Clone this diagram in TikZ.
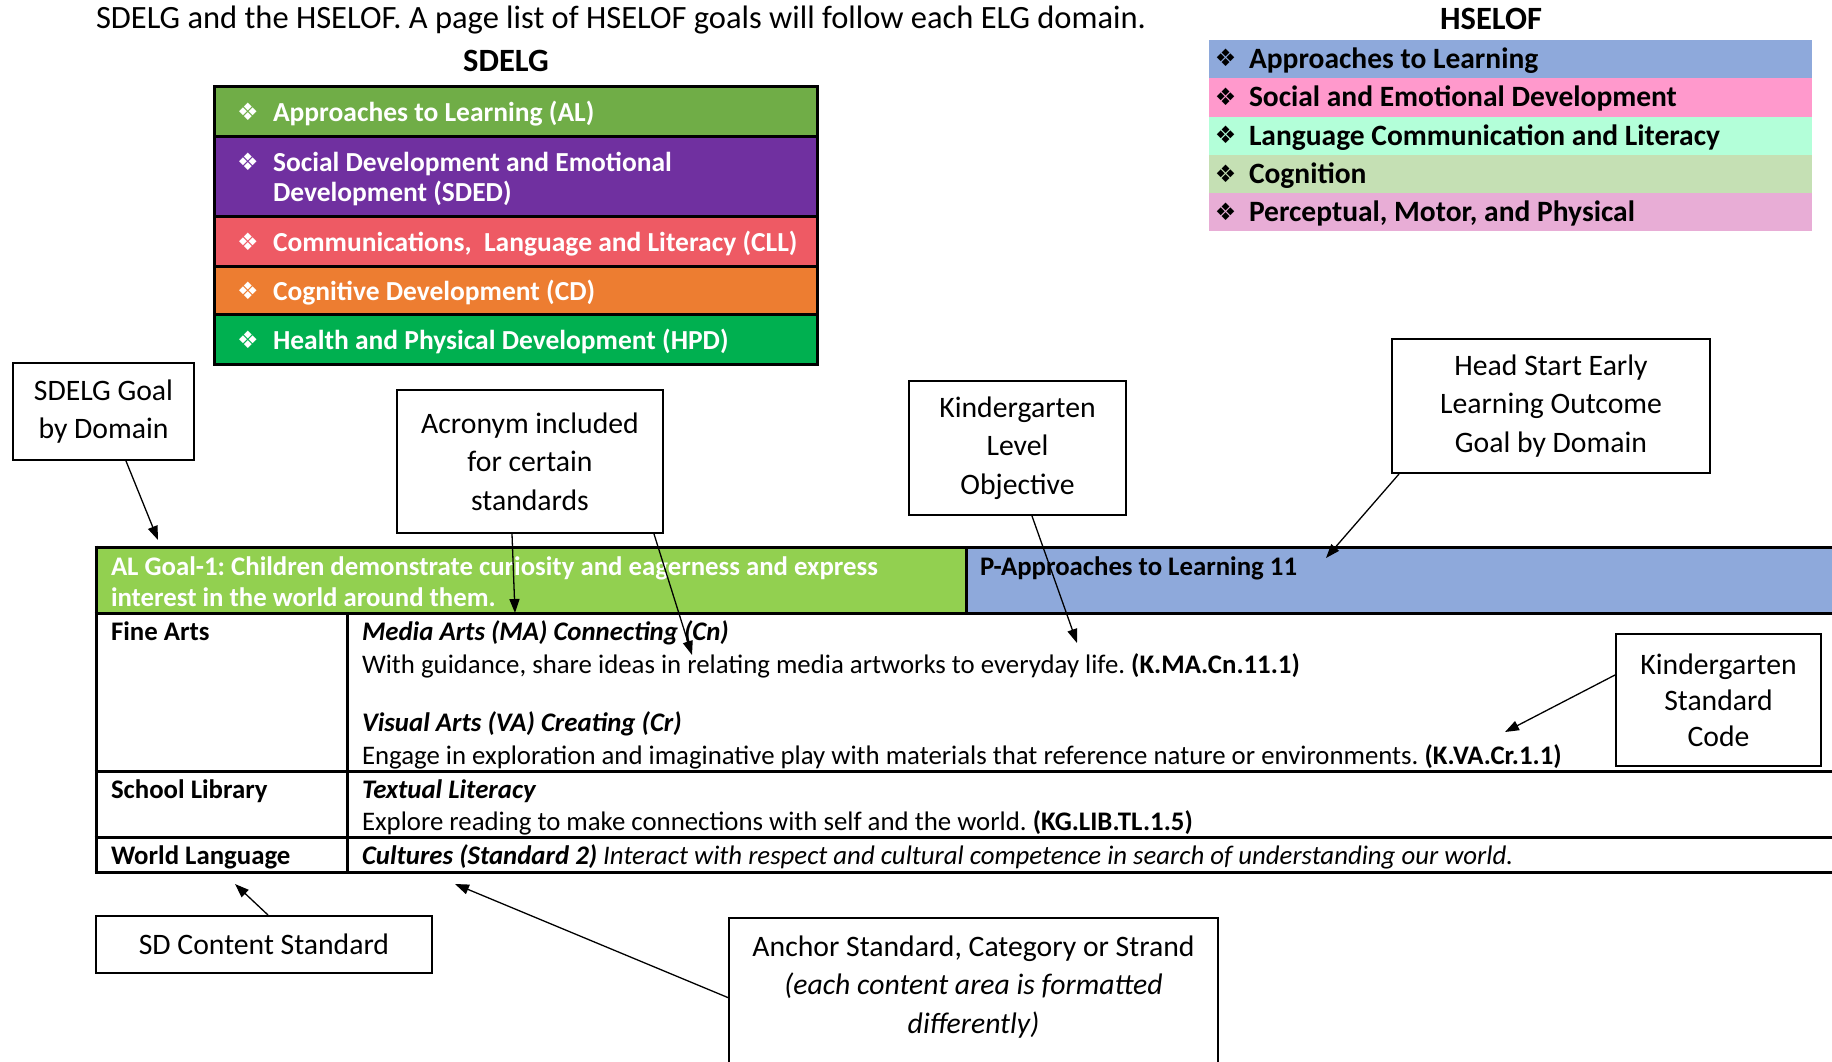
\documentclass[tikz,border=0pt]{standalone}
\usepackage{fontspec}
\setmainfont{Carlito}
\newfontfamily\dejavu{DejaVu Sans}
\usetikzlibrary{arrows.meta}
\definecolor{sdAL}{HTML}{70AD47}
\definecolor{sdSDED}{HTML}{7030A0}
\definecolor{sdCLL}{HTML}{EE5A64}
\definecolor{sdCD}{HTML}{ED7D31}
\definecolor{sdHPD}{HTML}{00B050}
\definecolor{hsAL}{HTML}{8EA9DB}
\definecolor{hsSED}{HTML}{FF99CC}
\definecolor{hsLCL}{HTML}{B3FFD9}
\definecolor{hsCOG}{HTML}{C5E0B4}
\definecolor{hsPMP}{HTML}{E8ADD6}
\definecolor{goalgreen}{HTML}{92D050}
\definecolor{goalblue}{HTML}{8EA9DB}
\frenchspacing
\begin{document}
\begin{tikzpicture}[x=1pt,y=-1pt,
  txt/.style={anchor=base west,inner sep=0pt,outer sep=0pt},
  ctxt/.style={anchor=base,inner sep=0pt,outer sep=0pt},
  callout/.style={draw=black,line width=2pt,fill=white,align=center,inner sep=0pt,font=\fontsize{29.7}{38.5}\selectfont},
  conn/.style={line width=1.3pt,-{Triangle[length=14pt,width=10pt]}},
  rulel/.style={line width=3pt},
  sdrow/.style={draw=black,line width=3pt},
  wbul/.style={inner sep=0pt,text=white,font=\dejavu\fontsize{24}{24}\selectfont},
  kbul/.style={inner sep=0pt,text=black,font=\dejavu\fontsize{24}{24}\selectfont},
  sdtxt/.style={txt,text=white,font=\bfseries\fontsize{27.5}{27.5}\selectfont},
  hstxt/.style={txt,text=black,font=\bfseries\fontsize{29.5}{29.5}\selectfont},
  gtxt/.style={txt,font=\bfseries\fontsize{26.8}{26.8}\selectfont},
  tbl/.style={txt,font=\fontsize{26.8}{26.8}\selectfont},
  tblb/.style={txt,font=\bfseries\fontsize{26.8}{26.8}\selectfont},
  tblbi/.style={txt,font=\bfseries\itshape\fontsize{26.8}{26.8}\selectfont},
]
\useasboundingbox (0,0) rectangle (1832,1061);
\fill[white] (0,0) rectangle (1832,1061);

% headings
\node[txt,font=\fontsize{32.5}{32.5}\selectfont] (title) at (96,28) {SDELG and the HSELOF. A page list of HSELOF goals will follow each ELG domain.};
\node[ctxt,font=\bfseries\fontsize{32.5}{32.5}\selectfont] (sdhead) at (506,71) {SDELG};
\node[ctxt,font=\bfseries\fontsize{32.5}{32.5}\selectfont] (hshead) at (1491,29) {HSELOF};

% SDELG table
\path[sdrow,fill=sdAL] (214,86) rectangle (817,136);
\path[sdrow,fill=sdSDED] (214,136) rectangle (817,216);
\path[sdrow,fill=sdCLL] (214,216) rectangle (817,266);
\path[sdrow,fill=sdCD] (214,266) rectangle (817,314);
\path[sdrow,fill=sdHPD] (214,314) rectangle (817,364);
\node[wbul] (sb1) at (248,112) {❖};
\node[wbul] (sb2) at (248,162) {❖};
\node[wbul] (sb3) at (248,242) {❖};
\node[wbul] (sb4) at (248,291) {❖};
\node[wbul] (sb5) at (248,340) {❖};
\node[sdtxt] (s1) at (273,121) {Approaches to Learning (AL)};
\node[sdtxt] (s2a) at (273,171) {Social Development and Emotional};
\node[sdtxt] (s2b) at (273,201) {Development (SDED)};
\node[sdtxt] (s3) at (273,251) {Communications,\hspace{0.45em}Language and Literacy (CLL)};
\node[sdtxt] (s4) at (273,300) {Cognitive Development (CD)};
\node[sdtxt] (s5) at (273,349) {Health and Physical Development (HPD)};

% HSELOF table
\fill[hsAL] (1209,40) rectangle (1812,78.2);
\fill[hsSED] (1209,78.2) rectangle (1812,116.6);
\fill[hsLCL] (1209,116.6) rectangle (1812,155);
\fill[hsCOG] (1209,155) rectangle (1812,193.4);
\fill[hsPMP] (1209,193.4) rectangle (1812,231);
\node[kbul] (hb1) at (1225.5,58) {❖};
\node[kbul] (hb2) at (1225.5,96.5) {❖};
\node[kbul] (hb3) at (1225.5,135) {❖};
\node[kbul] (hb4) at (1225.5,173.5) {❖};
\node[kbul] (hb5) at (1225.5,211.5) {❖};
\node[hstxt] (h1) at (1249,68) {Approaches to Learning};
\node[hstxt] (h2) at (1249,106.5) {Social and Emotional Development};
\node[hstxt] (h3) at (1249,145) {Language Communication and Literacy};
\node[hstxt] (h4) at (1249,183.5) {Cognition};
\node[hstxt] (h5) at (1249,221.5) {Perceptual, Motor, and Physical};

% lower table
\fill[goalgreen] (96,547) rectangle (966,613);
\fill[goalblue] (966,547) rectangle (1832,613);
\draw[rulel] (94.5,547) -- (1832,547);
\draw[rulel] (94.5,613) -- (1832,613);
\draw[rulel] (94.5,771) -- (1832,771);
\draw[rulel] (94.5,837.5) -- (1832,837.5);
\draw[rulel] (94.5,872) -- (1832,872);
\draw[rulel] (96,545.5) -- (96,873.5);
\draw[rulel] (966,547) -- (966,613);
\draw[rulel] (347,613) -- (347,872);

\node[gtxt,text=white] (g1) at (111,575) {AL Goal-1: Children demonstrate curiosity and eagerness and express};
\node[gtxt,text=white] (g2) at (111,606) {interest in the world around them.};
\node[gtxt,text=black] (p1) at (980,575) {P-Approaches to Learning 11};

\node[tblb] (fa) at (111,640) {Fine Arts};
\node[tblbi] (ma) at (362,640) {Media Arts (MA) Connecting (Cn)};
\node[tbl] (mat) at (362,673) {With guidance, share ideas in relating media artworks to everyday life. \textbf{(K.MA.Cn.11.1)}};
\node[tblbi] (va) at (362,731) {Visual Arts (VA) Creating (Cr)};
\node[tbl] (vat) at (362,764) {Engage in exploration and imaginative play with materials that reference nature or environments. \textbf{(K.VA.Cr.1.1)}};
\node[tblb] (sl) at (111,798) {School Library};
\node[tblbi] (tl) at (362,798) {Textual Literacy};
\node[tbl] (tlt) at (362,830) {Explore reading to make connections with self and the world. \textbf{(KG.LIB.TL.1.5)}};
\node[tblb] (wl) at (111,864) {World Language};
\node[tbl,font=\itshape\fontsize{26.8}{26.8}\selectfont] (cu) at (362,864) {\textbf{Cultures (Standard 2)} Interact with respect and cultural competence in search of understanding our world.};

% callout boxes
\node[callout,minimum width=181,minimum height=97] (goalbox) at (103.5,411.5) {SDELG Goal\\by Domain};
\node[callout,minimum width=266,minimum height=143] (acrbox) at (530,461.5) {Acronym included\\for certain\\standards};
\node[callout,minimum width=217,minimum height=134] (klvbox) at (1017.5,448) {Kindergarten\\Level\\Objective};
\node[callout,minimum width=318,minimum height=134] (hsbox) at (1551,406) {Head Start Early\\Learning Outcome\\Goal by Domain};
\node[callout,minimum width=205,minimum height=132,font=\fontsize{29.7}{36}\selectfont] (kscbox) at (1718.5,700) {Kindergarten\\Standard\\Code};
\node[callout,minimum width=336,minimum height=57] (sdcbox) at (264,944.5) {SD Content Standard};
\node[callout,minimum width=489,minimum height=200,anchor=north] (anchbox) at (973.5,917) {};
\node[align=center,inner sep=0pt,font=\fontsize{29.7}{38.5}\selectfont] (anchtxt) at (973.5,987) {Anchor Standard, Category or Strand\\\textit{(each content area is formatted}\\\textit{differently)}};

% connector targets
\coordinate (t1) at (158,540);
\coordinate (t2) at (515,613);
\coordinate (t3) at (692,655);
\coordinate (t4) at (1077,643);
\coordinate (t5) at (1326,558);
\coordinate (t6) at (1505,732);
\coordinate (t7) at (235,884);
\coordinate (t8) at (455,884);
\coordinate (anchpt) at (729,998);

\draw[conn] ([xshift=22.5pt]goalbox.south) -- (t1);
\draw[conn] ([xshift=-18pt]acrbox.south) -- (t2);
\draw[conn] ([xshift=124pt]acrbox.south) -- (t3);
\draw[conn] ([xshift=14.5pt]klvbox.south) -- (t4);
\draw[conn] ([xshift=-152pt]hsbox.south) -- (t5);
\draw[conn] ([yshift=25pt]kscbox.west) -- (t6);
\draw[conn] ([xshift=4pt]sdcbox.north) -- (t7);
\draw[conn] (anchpt) -- (t8);
\end{tikzpicture}
\end{document}
